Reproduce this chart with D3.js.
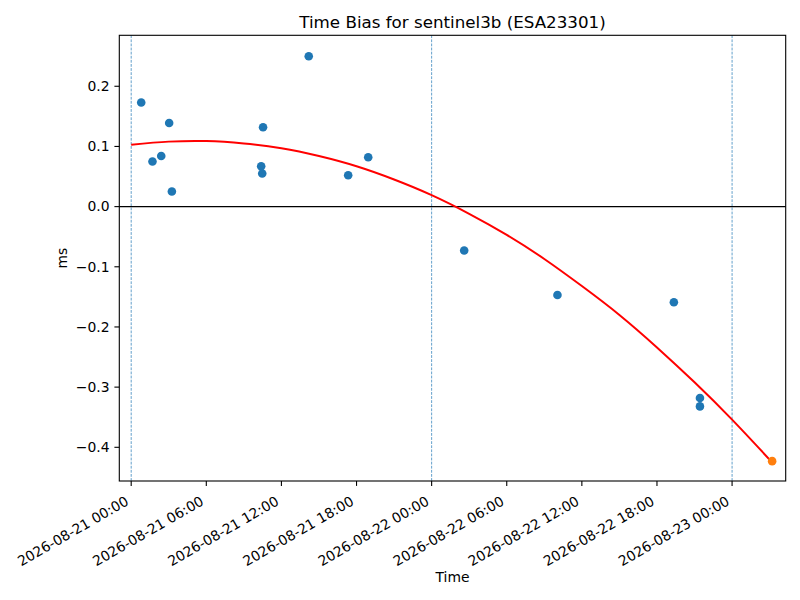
<!DOCTYPE html>
<html>
<head>
<meta charset="utf-8">
<script src="https://cdn.jsdelivr.net/npm/d3@7"></script>
<style>
  body { margin: 0; background: #fff; }
  svg { font-family: "DejaVu Sans", sans-serif; }
</style>
</head>
<body>
<svg id="chart" width="800" height="600"></svg>
<script>
// observed time bias samples (blue), last observation (orange), quadratic fit (red)
const obsTimes = [
  '2026-08-21 00:48', '2026-08-21 01:42', '2026-08-21 02:24', '2026-08-21 03:02',
  '2026-08-21 03:15', '2026-08-21 10:23', '2026-08-21 10:28', '2026-08-21 10:32',
  '2026-08-21 14:11', '2026-08-21 17:20', '2026-08-21 18:56', '2026-08-22 02:36',
  '2026-08-22 10:03', '2026-08-22 19:21', '2026-08-22 21:26', '2026-08-22 21:26'
];
const obsBias = [
  0.173, 0.075, 0.084, 0.139,
  0.025, 0.067, 0.055, 0.132,
  0.250, 0.052, 0.082, -0.073,
  -0.147, -0.159, -0.318, -0.332
];

const lastTime = ['2026-08-23 03:12'];
const lastBias = [-0.423];

const fitTimes = [
  '2026-08-21 00:00', '2026-08-21 03:00', '2026-08-21 06:00', '2026-08-21 09:00',
  '2026-08-21 12:00', '2026-08-21 15:00', '2026-08-21 18:00', '2026-08-21 21:00',
  '2026-08-22 00:00', '2026-08-22 03:00', '2026-08-22 06:00', '2026-08-22 09:00',
  '2026-08-22 12:00', '2026-08-22 15:00', '2026-08-22 18:00', '2026-08-22 21:00',
  '2026-08-23 00:00', '2026-08-23 03:12'
];
const fitBias = [
  0.103, 0.108, 0.109, 0.105,
  0.097, 0.084, 0.067, 0.045,
  0.019, -0.012, -0.047, -0.087,
  -0.132, -0.180, -0.234, -0.292,
  -0.354, -0.425
];

const dayMarks = ['2026-08-21 00:00', '2026-08-22 00:00', '2026-08-23 00:00'];
const xRange = ['2026-08-20 23:03', '2026-08-23 04:17'];
const yTicks = [0.2, 0.1, 0.0, -0.1, -0.2, -0.3, -0.4];

const parse = d3.utcParse('%Y-%m-%d %H:%M');
const fmt = d3.utcFormat('%Y-%m-%d %H:%M');

const plotL = 119.3, plotR = 785.7, plotT = 35.3, plotB = 481;
const svg = d3.select('#chart');

const x = d3.scaleUtc().domain(xRange.map(parse)).range([plotL, plotR]);
const y = d3.scaleLinear().domain([-0.456, 0.2847]).range([plotB, plotT]);

// day separators
svg.append('g')
  .selectAll('line')
  .data(dayMarks.map(parse))
  .join('line')
  .attr('x1', d => x(d)).attr('x2', d => x(d))
  .attr('y1', plotT).attr('y2', plotB)
  .attr('stroke', '#1f77b4')
  .attr('stroke-width', 0.7)
  .attr('stroke-dasharray', '2.8,1.3');

// zero line
svg.append('line')
  .attr('x1', plotL).attr('x2', plotR)
  .attr('y1', y(0)).attr('y2', y(0))
  .attr('stroke', '#000')
  .attr('stroke-width', 1.1);

// fit curve
const line = d3.line()
  .x(d => x(d[0]))
  .y(d => y(d[1]))
  .curve(d3.curveNatural);

svg.append('path')
  .datum(fitTimes.map((t, i) => [parse(t), fitBias[i]]))
  .attr('d', line)
  .attr('fill', 'none')
  .attr('stroke', 'red')
  .attr('stroke-width', 2);

svg.append('g')
  .selectAll('circle')
  .data(obsTimes.map((t, i) => [parse(t), obsBias[i]]))
  .join('circle')
  .attr('cx', d => x(d[0]))
  .attr('cy', d => y(d[1]))
  .attr('r', 4.3)
  .attr('fill', '#1f77b4');

svg.append('g')
  .selectAll('circle')
  .data(lastTime.map((t, i) => [parse(t), lastBias[i]]))
  .join('circle')
  .attr('cx', d => x(d[0]))
  .attr('cy', d => y(d[1]))
  .attr('r', 4.3)
  .attr('fill', '#ff7f0e');

// frame
svg.append('rect')
  .attr('x', plotL).attr('y', plotT)
  .attr('width', plotR - plotL).attr('height', plotB - plotT)
  .attr('fill', 'none')
  .attr('stroke', '#000')
  .attr('stroke-width', 1.1);

// x axis
const xTicks = x.ticks(d3.utcHour.every(6));
const xg = svg.append('g');
xg.selectAll('line')
  .data(xTicks)
  .join('line')
  .attr('x1', d => x(d)).attr('x2', d => x(d))
  .attr('y1', plotB).attr('y2', plotB + 4.9)
  .attr('stroke', '#000')
  .attr('stroke-width', 1.1);
xg.selectAll('text')
  .data(xTicks)
  .join('text')
  .attr('transform', d => `translate(${x(d) - 1.6},${plotB + 23}) rotate(-30)`)
  .attr('text-anchor', 'end')
  .attr('font-size', 13.9)
  .attr('fill', '#000')
  .text(d => fmt(d));

// y axis
const yg = svg.append('g');
yg.selectAll('line')
  .data(yTicks)
  .join('line')
  .attr('x1', plotL - 4.9).attr('x2', plotL)
  .attr('y1', d => y(d)).attr('y2', d => y(d))
  .attr('stroke', '#000')
  .attr('stroke-width', 1.1);
yg.selectAll('text')
  .data(yTicks)
  .join('text')
  .attr('x', plotL - 9.8)
  .attr('y', d => y(d))
  .attr('dy', '0.35em')
  .attr('text-anchor', 'end')
  .attr('font-size', 13.9)
  .attr('fill', '#000')
  .text(d => d3.format('.1f')(d).replace('-', '\u2212'));

svg.append('text')
  .attr('x', (plotL + plotR) / 2)
  .attr('y', 28)
  .attr('text-anchor', 'middle')
  .attr('font-size', 16.7)
  .text('Time Bias for sentinel3b (ESA23301)');

svg.append('text')
  .attr('x', (plotL + plotR) / 2)
  .attr('y', 582)
  .attr('text-anchor', 'middle')
  .attr('font-size', 13.9)
  .text('Time');

svg.append('text')
  .attr('transform', `translate(67,${(plotT + plotB) / 2}) rotate(-90)`)
  .attr('text-anchor', 'middle')
  .attr('font-size', 13.9)
  .text('ms');
</script>
</body>
</html>
